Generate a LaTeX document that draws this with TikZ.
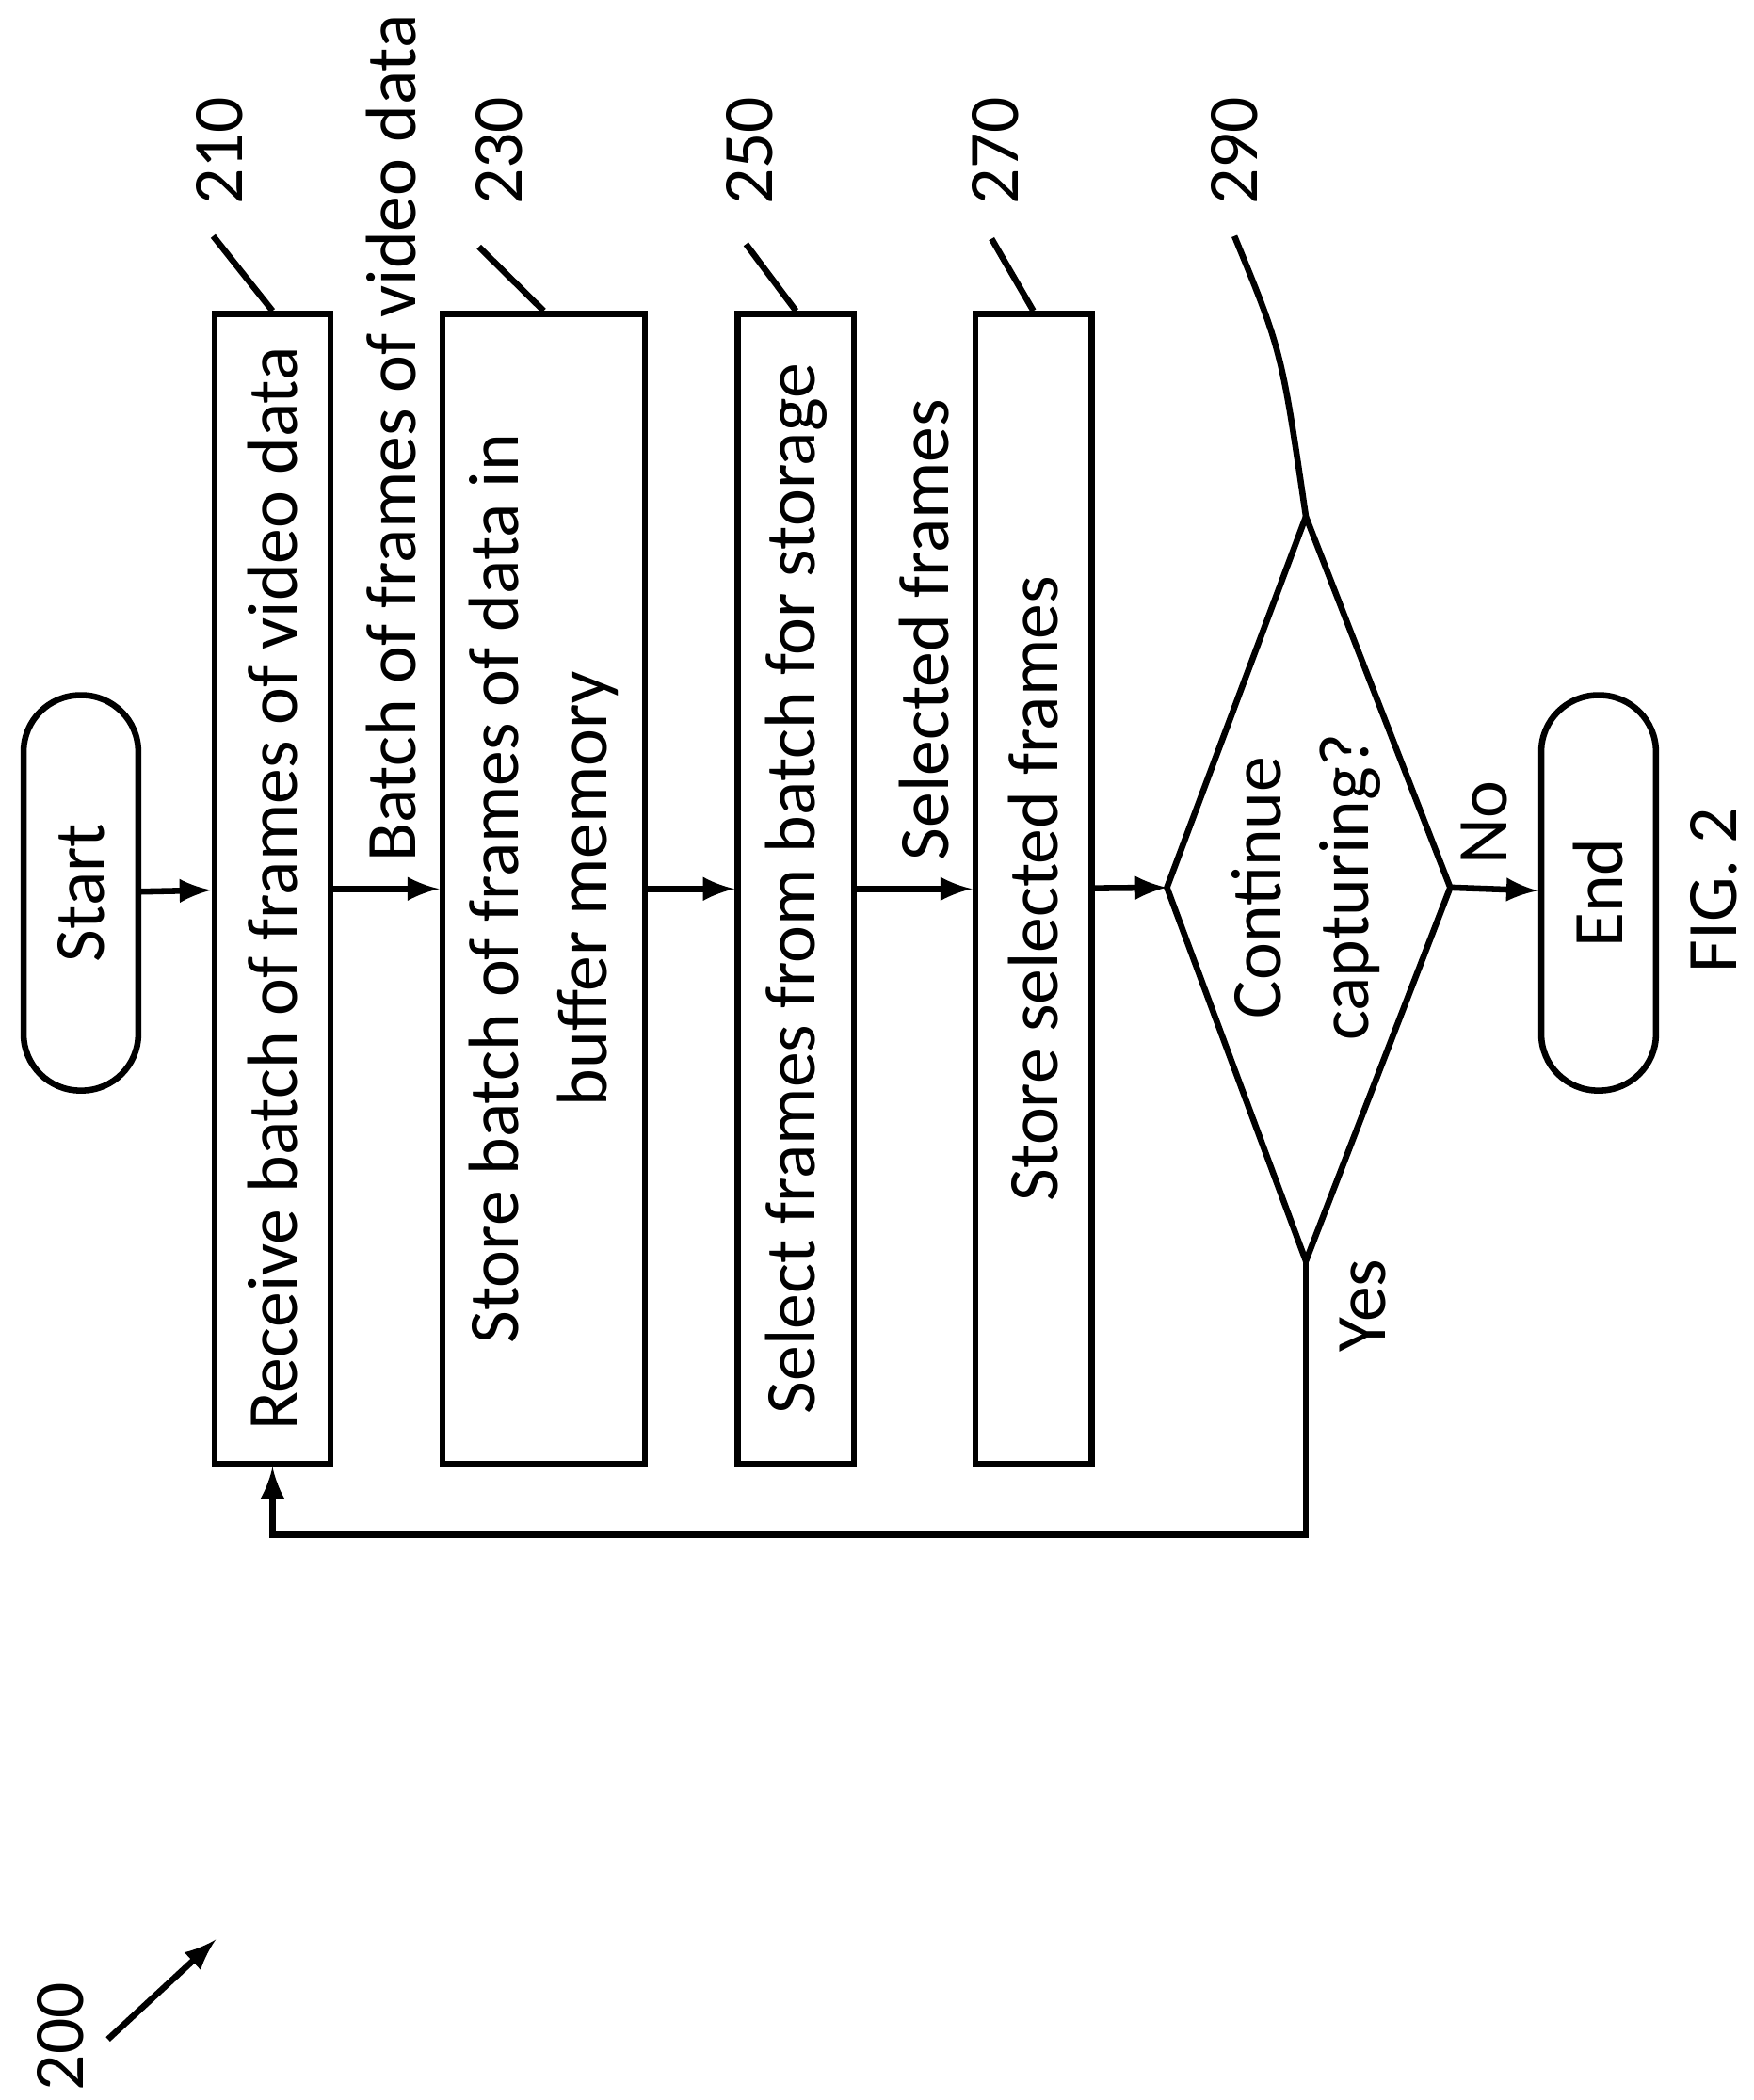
\documentclass[tikz,border=0pt]{standalone}
\usepackage{fontspec}
\setmainfont{Carlito}
\usetikzlibrary{arrows,positioning}

\begin{document}
\begin{tikzpicture}[
    ->,>=latex,x=0.01cm,y=-0.01cm,line width=1.3pt,font=\fontsize{15}{18.5}\selectfont,
  box/.style={draw,rotate=90,minimum width=8.52cm,minimum height=0.86cm,inner sep=2pt},
  term/.style={draw,rotate=90,rounded corners=0.42cm,minimum width=2.93cm,minimum height=0.85cm},
  lbl/.style={rotate=90,inner sep=0pt},
]
  \useasboundingbox (0,0) rectangle (1300,1557);

  \node[term] (start) at (60,662) {Start};
  \node[box] (210) at (202,659) {Receive batch of frames of video data};
  \node[box,minimum height=1.5cm,align=center] (230) at (403,659) {Store batch of frames of data in\\buffer memory};
  \node[box] (250) at (590,659) {Select frames from batch for storage};
  \node[box] (270) at (766,659) {Store selected frames};
  \node[term] (end) at (1185,662) {End};

  % decision
  \coordinate (decL) at (865,658);
  \coordinate (decR) at (1075,658);
  \coordinate (decT) at (968,383);
  \coordinate (decB) at (968,935);
  \draw[-] (decL) -- (decT) -- (decR) -- (decB) -- cycle;
  \node[lbl,align=center] (dec) at (968,658) {Continue\\capturing?};

  \draw (start) -- (210);
  \draw (210) -- (230);
  \draw (230) -- (250);
  \draw (250) -- (270);
  \draw (270) -- (decL);
  \draw (decR) -- (end);
  \draw (decB) -- (968,1138) -| (210.west);

  \node[lbl] (batch) at (290,325) {Batch of frames of video data};
  \node[lbl] (sel) at (685,467) {Selected frames};
  \node[lbl] (no) at (1100,610) {No};
  \node[lbl] (yes) at (1010,968) {Yes};
  \node[lbl] (fig) at (1270,660) {FIG. 2};

  % reference numerals
  \node[lbl] (r210) at (163,112) {210};
  \node[lbl] (r230) at (370,112) {230};
  \node[lbl] (r250) at (556,112) {250};
  \node[lbl] (r270) at (738,112) {270};
  \node[lbl] (r290) at (915,112) {290};
  \node[lbl] (r200) at (45,1510) {200};
  \coordinate (l210) at (158,175);
  \coordinate (l230) at (355,183);
  \coordinate (l250) at (553,181);
  \coordinate (l270) at (735,177);
  \coordinate (l290) at (915,175);
  \draw[-] (l210) -- (210.east);
  \draw[-] (l230) -- (230.east);
  \draw[-] (l250) -- (250.east);
  \draw[-] (l270) -- (270.east);
  \draw[-] (l290) .. controls (950,260) .. (decT);
  \draw (80,1512) -- (160,1438);
\end{tikzpicture}
\end{document}
